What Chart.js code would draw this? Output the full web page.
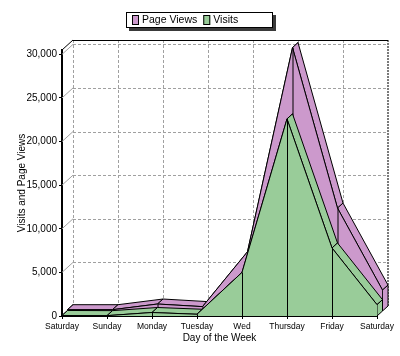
<!DOCTYPE html>
<html><head><meta charset="utf-8">
<script src="https://cdn.jsdelivr.net/npm/chart.js@4.4.0/dist/chart.umd.min.js"></script>
<style>html,body{margin:0;padding:0;background:#fff}#wrap{width:400px;height:356px;position:relative}</style>
</head><body><div id="wrap"><canvas id="c" width="400" height="356"></canvas></div>
<script>
// ---- data ----
const days = ['Saturday','Sunday','Monday','Tuesday','Wed','Thursday','Friday','Saturday'];
const pageViews = [150, 150, 800, 500, 6800, 30200, 11800, 2400];
const visits    = [60, 40, 400, 200, 5000, 22600, 7800, 1300];
const yTickValues = [0, 5000, 10000, 15000, 20000, 25000, 30000];
const seriesNames = ['Visits', 'Page Views'];
const legendOrder = ['Page Views', 'Visits'];

// ---- style ----
const PURPLE = '#cc99cc', GREEN = '#99cc99';
const D = {x: 11, y: 10};          // total 3D depth
const FONT = 'Liberation Sans, Arial, sans-serif';

function slot(i){ return {x: D.x * i / 2, y: -D.y * i / 2}; }

function quad(ctx, a, b, c, d){
  ctx.beginPath(); ctx.moveTo(a.x,a.y); ctx.lineTo(b.x,b.y); ctx.lineTo(c.x,c.y); ctx.lineTo(d.x,d.y); ctx.closePath();
  ctx.fill(); ctx.stroke();
}

function drawExtrusion(chart, meta){
  const ctx = chart.ctx;
  const ds = chart.data.datasets[meta.index];
  const pts = meta.data;
  const base = chart.scales.y.getPixelForValue(0);
  const hx = D.x/2, hy = -D.y/2;
  ctx.fillStyle = ds.backgroundColor; ctx.strokeStyle = '#000'; ctx.lineWidth = 1;
  const n = pts.length;
  quad(ctx, {x:pts[0].x,y:base},{x:pts[0].x,y:pts[0].y},{x:pts[0].x+hx,y:pts[0].y+hy},{x:pts[0].x+hx,y:base+hy});
  for (let j = 0; j < n-1; j++){
    const a = pts[j], b = pts[j+1];
    quad(ctx, {x:a.x,y:a.y},{x:b.x,y:b.y},{x:b.x+hx,y:b.y+hy},{x:a.x+hx,y:a.y+hy});
  }
  const l = pts[n-1];
  quad(ctx, {x:l.x,y:base},{x:l.x,y:l.y},{x:l.x+hx,y:l.y+hy},{x:l.x+hx,y:base+hy});
}

function drawOrderMetas(chart){
  return chart.getSortedVisibleDatasetMetas().slice().reverse();
}
function prepare(chart, meta){
  const ctx = chart.ctx; const o = slot(meta.index);
  ctx.save(); ctx.translate(o.x, o.y);
  drawExtrusion(chart, meta);
}

const depthPlugin = {
  id: 'depth3d',
  beforeDatasetsDraw(chart){
    const ctx = chart.ctx, a = chart.chartArea, ys = chart.scales.y, xs = chart.scales.x;
    const L = a.left + D.x, T = a.top - D.y, R = a.right + D.x, B = a.bottom - D.y;
    ctx.save();
    ctx.lineWidth = 1;
    ctx.strokeStyle = '#a0a0a0'; ctx.setLineDash([3,2]);
    yTickValues.forEach(v => { if (v === 0) return; const y = Math.round(ys.getPixelForValue(v) - D.y) + 0.5;
      ctx.beginPath(); ctx.moveTo(L, y); ctx.lineTo(R, y); ctx.stroke(); });
    days.forEach((d,i) => { const x = Math.round(xs.getPixelForValue(i) + D.x) + 0.5;
      if (i === days.length-1) return;
      ctx.beginPath(); ctx.moveTo(x, T); ctx.lineTo(x, B); ctx.stroke(); });
    ctx.strokeStyle = '#7a7a7a'; ctx.lineWidth = 2; ctx.setLineDash([2,1]);
    ctx.beginPath(); ctx.moveTo(R, T); ctx.lineTo(R, B); ctx.stroke();
    ctx.setLineDash([]); ctx.lineWidth = 1;
    ctx.strokeStyle = '#000';
    ctx.beginPath(); ctx.moveTo(L, T + 0.5); ctx.lineTo(R, T + 0.5); ctx.stroke();
    ctx.strokeStyle = '#a0a0a0';
    yTickValues.forEach(v => { const y = ys.getPixelForValue(v);
      ctx.beginPath(); ctx.moveTo(a.left, y); ctx.lineTo(L, y - D.y); ctx.stroke(); });
    ctx.strokeStyle = '#000';
    ctx.beginPath(); ctx.moveTo(a.left, a.top); ctx.lineTo(L, T); ctx.stroke();
    ctx.beginPath(); ctx.moveTo(a.left, a.bottom); ctx.lineTo(L, B); ctx.stroke();
    ctx.restore();
    const order = drawOrderMetas(chart);
    if (order.length) prepare(chart, order[0]);
  },
  afterDatasetDraw(chart, args){
    const ctx = chart.ctx, meta = args.meta;
    const base = chart.scales.y.getPixelForValue(0);
    ctx.strokeStyle = '#000'; ctx.lineWidth = 1;
    const pts = meta.data;
    for (let j = 1; j < pts.length - 1; j++){
      const x = Math.round(pts[j].x) + 0.5;
      ctx.beginPath(); ctx.moveTo(x, base); ctx.lineTo(x, pts[j].y); ctx.stroke();
    }
    ctx.restore();
    const order = drawOrderMetas(chart);
    const k = order.indexOf(meta);
    if (k >= 0 && k + 1 < order.length) prepare(chart, order[k+1]);
  },
  afterDraw(chart){
    const ctx = chart.ctx;
    const bx = 126, by = 12, bw = 147, bh = 16;
    ctx.save();
    ctx.fillStyle = '#3a3a3a'; ctx.fillRect(bx + 3, by + 3, bw, bh);
    ctx.fillStyle = '#fff'; ctx.fillRect(bx, by, bw, bh);
    ctx.strokeStyle = '#000'; ctx.lineWidth = 1; ctx.strokeRect(bx + 0.5, by + 0.5, bw - 1, bh - 1);
    ctx.font = '10.5px ' + FONT; ctx.textBaseline = 'middle'; ctx.textAlign = 'left';
    let x = 132;
    legendOrder.forEach(name => {
      const ds = chart.data.datasets.find(d => d.label === name);
      ctx.fillStyle = ds.backgroundColor; ctx.fillRect(x, by + 3, 7, 10);
      ctx.strokeStyle = '#000'; ctx.strokeRect(x + 0.5, by + 3.5, 6, 9);
      ctx.fillStyle = '#000'; ctx.fillText(name, x + 10, by + bh/2 + 0.5);
      x += 10 + ctx.measureText(name).width + 6;
    });
    ctx.restore();
  }
};

const chart = new Chart(document.getElementById('c'), {
  type: 'line',
  data: {
    labels: days,
    datasets: [
      {label: seriesNames[0], data: visits, backgroundColor: GREEN, borderColor: '#000', borderWidth: 1, fill: 'origin', pointRadius: 0, tension: 0, clip: false},
      {label: seriesNames[1], data: pageViews, backgroundColor: PURPLE, borderColor: '#000', borderWidth: 1, fill: 'origin', pointRadius: 0, tension: 0, clip: false}
    ]
  },
  options: {
    responsive: false, animation: false, devicePixelRatio: 1,
    layout: {padding: {top: 50, right: 23, left: 0, bottom: 0}},
    plugins: {legend: {display: false}, tooltip: {enabled: false}},
    scales: {
      x: {
        z: 1,
        offset: false,
        grid: {drawOnChartArea: false, drawTicks: true, tickLength: 3, color: '#000'},
        border: {display: true, color: '#000', width: 2},
        ticks: {color: '#000', font: {family: FONT, size: 8.5}, padding: 3, maxRotation: 0, autoSkip: false},
        title: {display: true, text: 'Day of the Week', color: '#000', font: {family: FONT, size: 10}, padding: {top: 0, bottom: 12}},
        afterFit(s){ s.height = 40; }
      },
      y: {
        z: 1,
        min: 0, max: 30500,
        afterBuildTicks(s){ s.ticks = yTickValues.map(v => ({value: v})); },
        grid: {drawOnChartArea: false, drawTicks: true, tickLength: 3, color: '#000'},
        border: {display: true, color: '#000', width: 2},
        ticks: {color: '#000', font: {family: FONT, size: 10}, padding: 2, callback: v => v.toLocaleString('en-US')},
        title: {display: true, text: 'Visits and Page Views', color: '#000', font: {family: FONT, size: 10}, padding: {top: 16, bottom: 0}},
        afterFit(s){ s.width = 62; }
      }
    }
  },
  plugins: [depthPlugin]
});
</script>
</body></html>
